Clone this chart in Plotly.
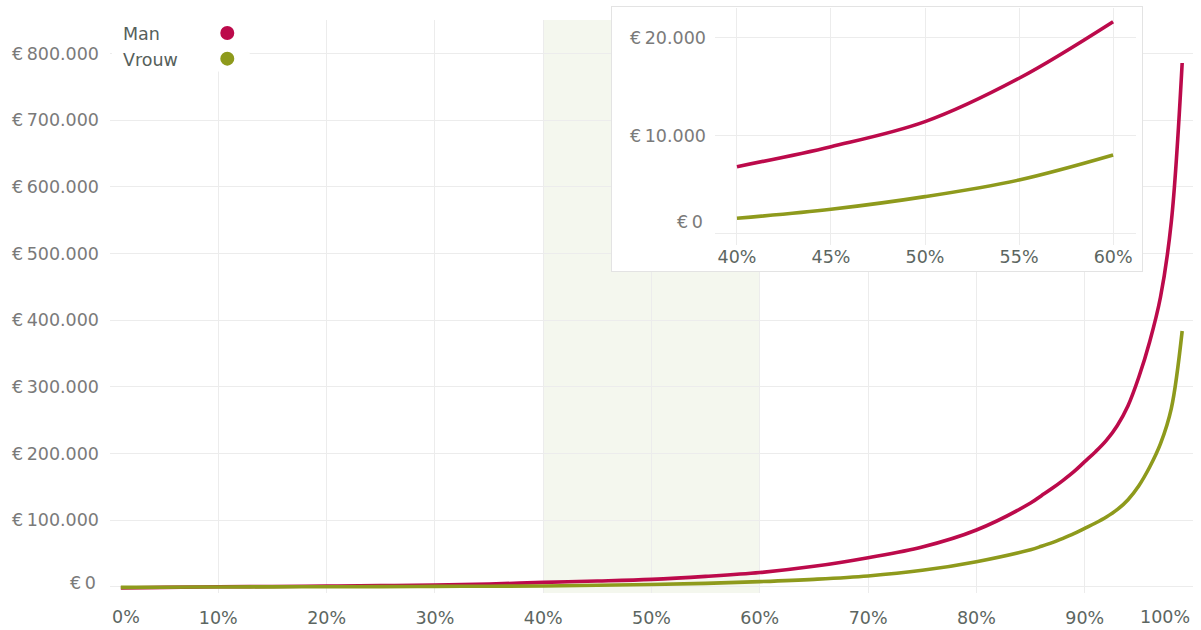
import plotly.graph_objects as go

# ---------------- data ----------------
percentiles = [1, 5, 10, 15, 20, 25, 30, 35, 40, 45, 50, 55, 60, 65, 70, 75, 80,
               85, 86, 87, 88, 89, 90, 91, 92, 93, 94, 95, 96, 97, 98, 99]
man = [-1500, -500, 300, 800, 1400, 2000, 2800, 4500, 6870, 8910, 11460, 15890,
       21660, 31000, 44000, 60000, 85500, 126000, 137000, 148000, 160000, 173000,
       188000, 203000, 220000, 242000, 272000, 315000, 368000, 435000, 548000, 786000]
vrouw = [-500, -300, 0, 200, 400, 600, 900, 1200, 1600, 2520, 3810, 5510, 8060,
         11500, 16500, 25000, 38000, 56000, 61000, 66500, 73000, 80000, 88000,
         96000, 105000, 116000, 131000, 152000, 180000, 215000, 268000, 384000]
series_names = ["Man", "Vrouw"]

main_y_ticks = [0, 100000, 200000, 300000, 400000, 500000, 600000, 700000, 800000]
main_y_labels = ["€\u20090", "€\u2009100.000", "€\u2009200.000", "€\u2009300.000",
                 "€\u2009400.000", "€\u2009500.000", "€\u2009600.000",
                 "€\u2009700.000", "€\u2009800.000"]
main_x_ticks = [0, 10, 20, 30, 40, 50, 60, 70, 80, 90, 100]
main_x_labels = ["0%", "10%", "20%", "30%", "40%", "50%", "60%", "70%", "80%",
                 "90%", "100%"]
inset_x_ticks = [40, 45, 50, 55, 60]
inset_x_labels = ["40%", "45%", "50%", "55%", "60%"]
inset_y_ticks = [0, 10000, 20000]
inset_y_labels = ["€\u20090", "€\u200910.000", "€\u200920.000"]
highlight_range = [40, 60]

# ---------------- style ----------------
RED = "#bc0a4b"
OLIVE = "#8e9a1c"
colors = [RED, OLIVE]
FONT = "DejaVu Sans"
FS = 17.5
YCOL = "#7a7a7a"
XCOL = "#5c6661"
GRID = "#ececec"

fig = go.Figure()

# main lines
for name, vals, col in zip(series_names, [man, vrouw], colors):
    fig.add_trace(go.Scatter(
        x=percentiles, y=vals, mode="lines", name=name,
        line=dict(color=col, width=3.6, shape="spline", smoothing=1.0),
        showlegend=False, hoverinfo="skip"))

# box behind the inset (white card)
fig.add_trace(go.Scatter(x=[0.5], y=[0.5], xaxis="x2", yaxis="y2", mode="markers",
                         marker=dict(opacity=0), showlegend=False, hoverinfo="skip"))

# inset lines
for name, vals, col in zip(series_names, [man, vrouw], colors):
    xs = [p for p in percentiles if highlight_range[0] <= p <= highlight_range[1]]
    ys = [v for p, v in zip(percentiles, vals)
          if highlight_range[0] <= p <= highlight_range[1]]
    fig.add_trace(go.Scatter(
        x=xs, y=ys, mode="lines", name=name, xaxis="x3", yaxis="y3",
        line=dict(color=col, width=3.6, shape="spline", smoothing=1.0),
        showlegend=False, hoverinfo="skip"))


def blank_at(labels, idxs):
    return ["" if i in idxs else t for i, t in enumerate(labels)]


fig.update_layout(
    width=1201, height=630,
    margin=dict(l=110, r=8, t=7, b=37, pad=0, autoexpand=False),
    paper_bgcolor="white", plot_bgcolor="white",
    font=dict(family=FONT, size=FS, color=XCOL),
    showlegend=False,
    xaxis=dict(domain=[0, 1], range=[0, 100], tickvals=main_x_ticks,
               ticktext=blank_at(main_x_labels, {0, len(main_x_labels) - 1}),
               showgrid=True, gridcolor=GRID, gridwidth=1, zeroline=False,
               showline=False, ticks="", tickfont=dict(size=FS, color=XCOL),
               ticklabelstandoff=12, fixedrange=True, automargin=False),
    yaxis=dict(domain=[0, 0.97782], range=[-9000, 850500], tickvals=main_y_ticks,
               ticktext=blank_at(main_y_labels, {0}),
               showgrid=True, gridcolor=GRID, gridwidth=1, zeroline=False,
               showline=False, ticks="", tickfont=dict(size=FS, color=YCOL),
               ticklabelstandoff=10, fixedrange=True, automargin=False),
    xaxis2=dict(domain=[0.4635, 0.9529], anchor="y2", range=[0, 1],
                showgrid=False, zeroline=False, showticklabels=False, ticks="",
                showline=True, mirror=True, linecolor="#e3e3e3", linewidth=1.2,
                automargin=False),
    yaxis2=dict(domain=[0.5495, 1.0], anchor="x2", range=[0, 1],
                showgrid=False, zeroline=False, showticklabels=False, ticks="",
                showline=True, mirror=True, linecolor="#e3e3e3", linewidth=1.2,
                automargin=False),
    xaxis3=dict(domain=[0.5586, 0.9474], anchor="y3", range=[38.83, 61.22],
                tickvals=inset_x_ticks, ticktext=inset_x_labels,
                showgrid=True, gridcolor=GRID, zeroline=False, showline=False,
                ticks="", tickfont=dict(size=FS, color=XCOL), ticklabelstandoff=0,
                automargin=False),
    yaxis3=dict(domain=[0.5939, 0.9983], anchor="x3", range=[-1122, 23061],
                tickvals=inset_y_ticks, ticktext=blank_at(inset_y_labels, {0}),
                showgrid=True, gridcolor=GRID, zeroline=False, showline=False,
                ticks="", tickfont=dict(size=FS, color=YCOL), ticklabelstandoff=8,
                automargin=False),
)

shapes = [
    # highlighted 40%-60% band
    dict(type="rect", xref="x", yref="y domain", x0=highlight_range[0],
         x1=highlight_range[1], y0=0, y1=1, fillcolor="#f4f7ee",
         line=dict(width=0), layer="below"),
    # legend background
    dict(type="rect", xref="paper", yref="paper", x0=0.0018, x1=0.129,
         y0=0.8898, y1=0.97782, fillcolor="white", line=dict(width=0),
         layer="above"),
]
legend_y = [0.9773, 0.9325]
text_y = [0.9747, 0.931]
annotations = []
for name, col, cy, ty in zip(series_names, colors, legend_y, text_y):
    shapes.append(dict(type="circle", xref="paper", yref="paper",
                       xsizemode="pixel", ysizemode="pixel",
                       xanchor=0.1083, yanchor=cy * 0.97782, x0=-7, x1=7, y0=-7, y1=7,
                       fillcolor=col, line=dict(width=0), layer="above"))
    annotations.append(dict(text=name, xref="paper", yref="paper",
                            x=0.010, y=ty * 0.97782, xanchor="left",
                            yanchor="middle", showarrow=False,
                            font=dict(family=FONT, size=FS, color="#56605b")))

# end labels of the axes (placed inside like the original)
annotations += [
    dict(text=main_x_labels[0], xref="x", yref="paper", x=main_x_ticks[0],
         y=-0.0419 * 0.97782, xanchor="left", yanchor="middle", showarrow=False,
         font=dict(family=FONT, size=FS, color=XCOL)),
    dict(text=main_x_labels[-1], xref="x", yref="paper", x=main_x_ticks[-1],
         y=-0.0419 * 0.97782, xanchor="right", yanchor="middle", showarrow=False,
         xshift=-1, font=dict(family=FONT, size=FS, color=XCOL)),
    dict(text=main_y_labels[0], xref="paper", yref="paper", x=-0.0111,
         y=0.01745 * 0.97782, xanchor="right", yanchor="middle", showarrow=False,
         font=dict(family=FONT, size=FS, color=YCOL)),
    dict(text=inset_y_labels[0], xref="paper", yref="paper",
         x=0.5586 - 0.0247 * (0.9474 - 0.5586),
         y=0.5939 + 0.097 * (0.9983 - 0.5939), xanchor="right", yanchor="middle",
         showarrow=False, font=dict(family=FONT, size=FS, color=YCOL)),
]

fig.update_layout(shapes=shapes, annotations=annotations)

fig.write_html("out.html", config={"displayModeBar": False},
               post_script="document.body.style.margin='0';"
                           "document.body.style.overflow='hidden';")
